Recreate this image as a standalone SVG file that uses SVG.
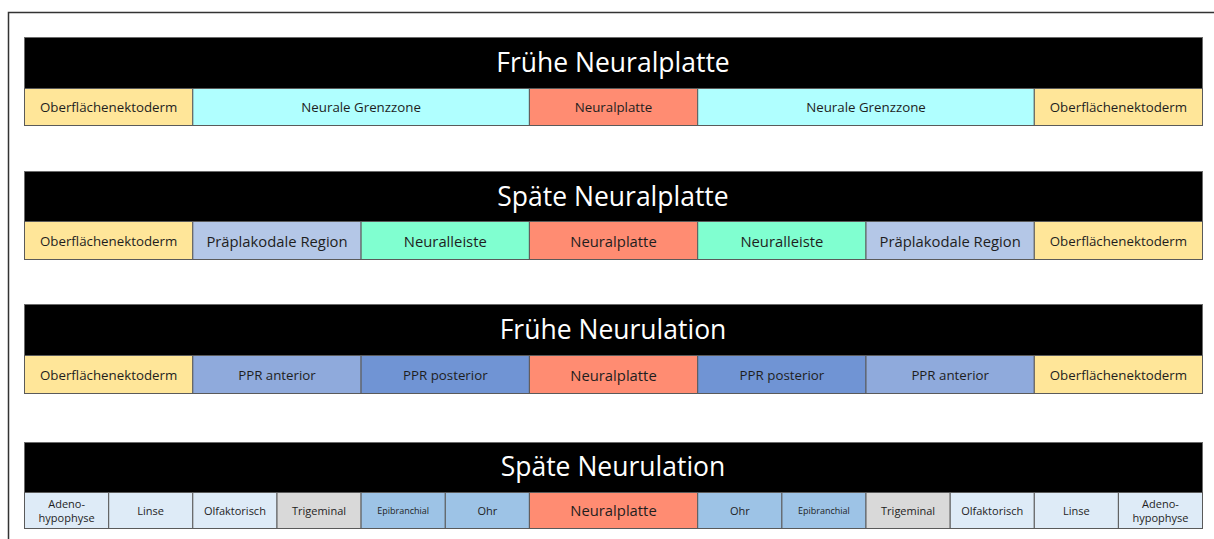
<svg xmlns="http://www.w3.org/2000/svg" width="1214" height="539" viewBox="0 0 1214 539">
  <style>
    .frame { fill: none; stroke: #333; stroke-width: 1.5; }
    .bar { fill: #000; stroke: #6b6b6b; stroke-width: 1; }
    .title { fill: #fff; font-family: "Open Sans", "Liberation Sans", sans-serif; font-size: 26.5px; text-anchor: middle; dominant-baseline: central; }
    .cell { stroke: #5a5a5a; stroke-width: 1; }
    .lbl { fill: #1e1e1e; font-family: "Open Sans", "Liberation Sans", sans-serif; text-anchor: middle; dominant-baseline: central; font-size: 13.3px; }
    .l14 { font-size: 14.8px; }
    .l11 { font-size: 11px; }
    .l10 { font-size: 9px; }
    .ecto { fill: #FFE699; }
    .grenz { fill: #B0FFFF; }
    .platte { fill: #FF8C72; }
    .ppr { fill: #B4C7E7; }
    .leiste { fill: #80FFD0; }
    .ppra { fill: #8FAADC; }
    .pprp { fill: #7094D4; }
    .pale { fill: #DEEBF7; }
    .grey { fill: #D9D9D9; }
    .blue { fill: #9DC3E6; }
  </style>

  <!-- outer frame (top and left edges) -->
  <path class="frame" d="M8.5,539 V12.5 H1214"/>

  <!-- stage 1: early neural plate -->
  <g id="row-fruehe-neuralplatte">
    <rect class="bar" x="24.5" y="37.5" width="1178" height="51"/>
    <text class="title" x="613" y="62">Frühe Neuralplatte</text>
    <g id="r1-ecto-l"><rect class="cell ecto" x="24.5" y="88.5" width="168.3" height="37"/><text class="lbl" x="108.6" y="107">Oberflächenektoderm</text></g>
    <g id="r1-grenz-l"><rect class="cell grenz" x="192.8" y="88.5" width="336.6" height="37"/><text class="lbl" x="361.1" y="107">Neurale Grenzzone</text></g>
    <g id="r1-platte"><rect class="cell platte" x="529.4" y="88.5" width="168.3" height="37"/><text class="lbl" x="613.5" y="107">Neuralplatte</text></g>
    <g id="r1-grenz-r"><rect class="cell grenz" x="697.7" y="88.5" width="336.6" height="37"/><text class="lbl" x="866" y="107">Neurale Grenzzone</text></g>
    <g id="r1-ecto-r"><rect class="cell ecto" x="1034.3" y="88.5" width="168.2" height="37"/><text class="lbl" x="1118.4" y="107">Oberflächenektoderm</text></g>
  </g>

  <!-- stage 2: late neural plate -->
  <g id="row-spaete-neuralplatte">
    <rect class="bar" x="24.5" y="171.5" width="1178" height="50"/>
    <text class="title" x="613" y="196">Späte Neuralplatte</text>
    <g id="r2-ecto-l"><rect class="cell ecto" x="24.5" y="221.5" width="168.3" height="38"/><text class="lbl" x="108.6" y="241">Oberflächenektoderm</text></g>
    <g id="r2-ppr-l"><rect class="cell ppr" x="192.8" y="221.5" width="168.3" height="38"/><text class="lbl l14" x="277" y="241">Präplakodale Region</text></g>
    <g id="r2-leiste-l"><rect class="cell leiste" x="361.1" y="221.5" width="168.3" height="38"/><text class="lbl l14" x="445.3" y="241">Neuralleiste</text></g>
    <g id="r2-platte"><rect class="cell platte" x="529.4" y="221.5" width="168.3" height="38"/><text class="lbl l14" x="613.5" y="241">Neuralplatte</text></g>
    <g id="r2-leiste-r"><rect class="cell leiste" x="697.7" y="221.5" width="168.3" height="38"/><text class="lbl l14" x="781.9" y="241">Neuralleiste</text></g>
    <g id="r2-ppr-r"><rect class="cell ppr" x="866" y="221.5" width="168.3" height="38"/><text class="lbl l14" x="950.2" y="241">Präplakodale Region</text></g>
    <g id="r2-ecto-r"><rect class="cell ecto" x="1034.3" y="221.5" width="168.2" height="38"/><text class="lbl" x="1118.4" y="241">Oberflächenektoderm</text></g>
  </g>

  <!-- stage 3: early neurulation -->
  <g id="row-fruehe-neurulation">
    <rect class="bar" x="24.5" y="304.5" width="1178" height="51"/>
    <text class="title" x="613" y="329">Frühe Neurulation</text>
    <g id="r3-ecto-l"><rect class="cell ecto" x="24.5" y="355.5" width="168.3" height="38"/><text class="lbl" x="108.6" y="375">Oberflächenektoderm</text></g>
    <g id="r3-ppra-l"><rect class="cell ppra" x="192.8" y="355.5" width="168.3" height="38"/><text class="lbl" x="277" y="375">PPR anterior</text></g>
    <g id="r3-pprp-l"><rect class="cell pprp" x="361.1" y="355.5" width="168.3" height="38"/><text class="lbl" x="445.3" y="375">PPR posterior</text></g>
    <g id="r3-platte"><rect class="cell platte" x="529.4" y="355.5" width="168.3" height="38"/><text class="lbl l14" x="613.5" y="375">Neuralplatte</text></g>
    <g id="r3-pprp-r"><rect class="cell pprp" x="697.7" y="355.5" width="168.3" height="38"/><text class="lbl" x="781.9" y="375">PPR posterior</text></g>
    <g id="r3-ppra-r"><rect class="cell ppra" x="866" y="355.5" width="168.3" height="38"/><text class="lbl" x="950.2" y="375">PPR anterior</text></g>
    <g id="r3-ecto-r"><rect class="cell ecto" x="1034.3" y="355.5" width="168.2" height="38"/><text class="lbl" x="1118.4" y="375">Oberflächenektoderm</text></g>
  </g>

  <!-- stage 4: late neurulation -->
  <g id="row-spaete-neurulation">
    <rect class="bar" x="24.5" y="442.5" width="1178" height="50"/>
    <text class="title" x="613" y="466">Späte Neurulation</text>
    <g id="r4-adeno-l"><rect class="cell pale" x="24.5" y="492.5" width="84.2" height="36"/><text class="lbl l11" x="66.6" y="510"><tspan x="66.6" dy="-7">Adeno-</tspan><tspan x="66.6" dy="14">hypophyse</tspan></text></g>
    <g id="r4-linse-l"><rect class="cell pale" x="108.7" y="492.5" width="84.1" height="36"/><text class="lbl l11" x="150.7" y="510">Linse</text></g>
    <g id="r4-olf-l"><rect class="cell pale" x="192.8" y="492.5" width="84.2" height="36"/><text class="lbl l11" x="234.9" y="510">Olfaktorisch</text></g>
    <g id="r4-tri-l"><rect class="cell grey" x="277" y="492.5" width="84.1" height="36"/><text class="lbl l11" x="319" y="510">Trigeminal</text></g>
    <g id="r4-epi-l"><rect class="cell blue" x="361.1" y="492.5" width="84.2" height="36"/><text class="lbl l10" x="403.2" y="510">Epibranchial</text></g>
    <g id="r4-ohr-l"><rect class="cell blue" x="445.3" y="492.5" width="84.1" height="36"/><text class="lbl l11" x="487.3" y="510">Ohr</text></g>
    <g id="r4-platte"><rect class="cell platte" x="529.4" y="492.5" width="168.3" height="36"/><text class="lbl l14" x="613.5" y="510">Neuralplatte</text></g>
    <g id="r4-ohr-r"><rect class="cell blue" x="697.7" y="492.5" width="84.2" height="36"/><text class="lbl l11" x="739.8" y="510">Ohr</text></g>
    <g id="r4-epi-r"><rect class="cell blue" x="781.9" y="492.5" width="84.1" height="36"/><text class="lbl l10" x="823.9" y="510">Epibranchial</text></g>
    <g id="r4-tri-r"><rect class="cell grey" x="866" y="492.5" width="84.2" height="36"/><text class="lbl l11" x="908.1" y="510">Trigeminal</text></g>
    <g id="r4-olf-r"><rect class="cell pale" x="950.2" y="492.5" width="84.1" height="36"/><text class="lbl l11" x="992.2" y="510">Olfaktorisch</text></g>
    <g id="r4-linse-r"><rect class="cell pale" x="1034.3" y="492.5" width="84.1" height="36"/><text class="lbl l11" x="1076.4" y="510">Linse</text></g>
    <g id="r4-adeno-r"><rect class="cell pale" x="1118.4" y="492.5" width="84.1" height="36"/><text class="lbl l11" x="1160.5" y="510"><tspan x="1160.5" dy="-7">Adeno-</tspan><tspan x="1160.5" dy="14">hypophyse</tspan></text></g>
  </g>

  <!-- no connectors in this diagram -->
  <g id="connectors"/>
</svg>
